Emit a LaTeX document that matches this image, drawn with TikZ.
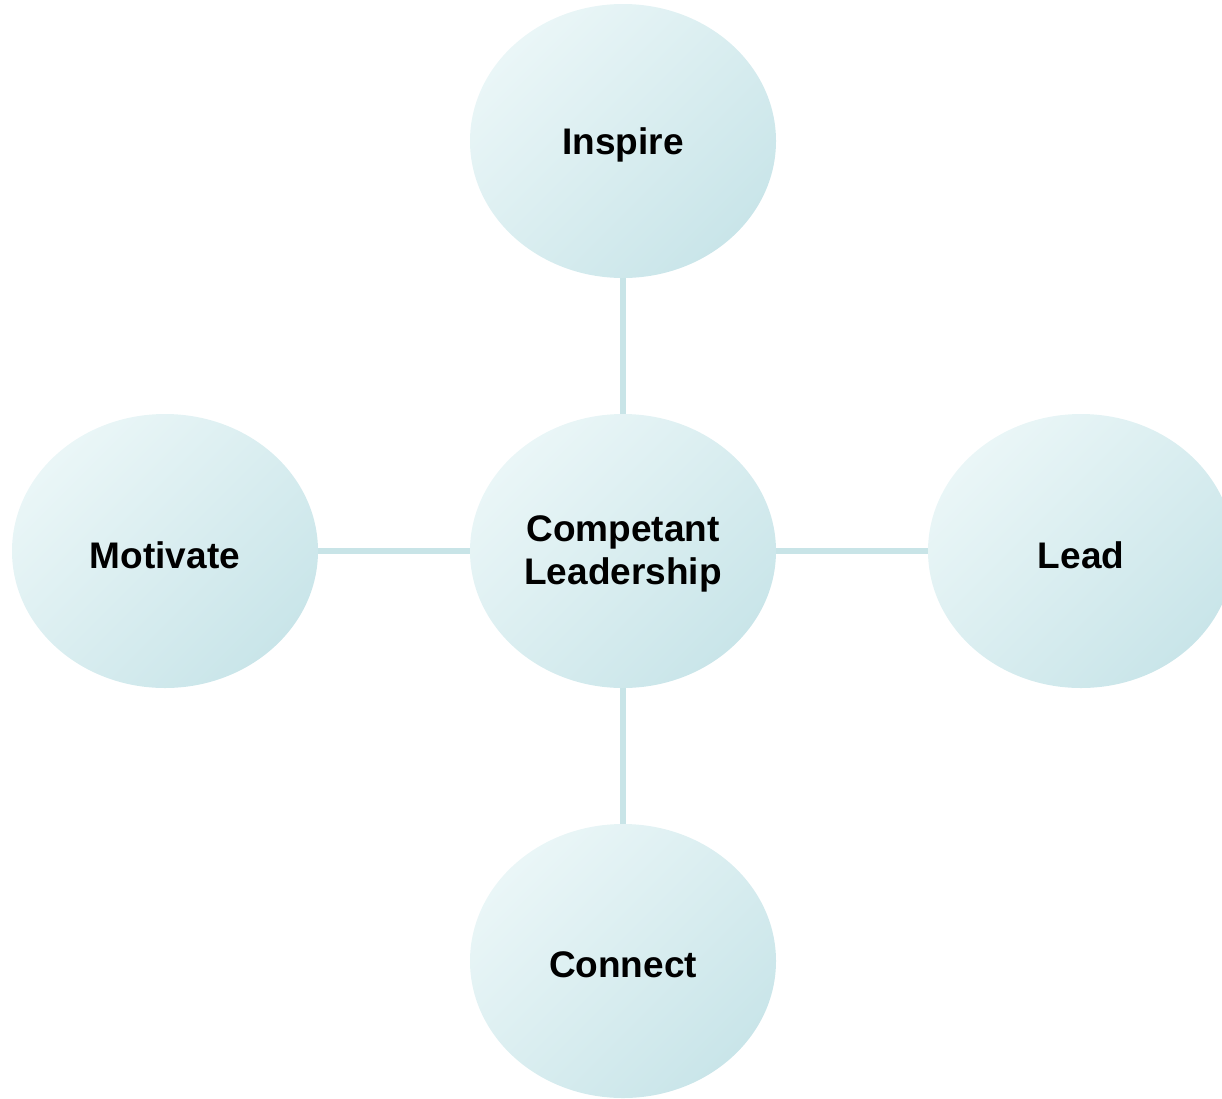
\documentclass[tikz,border=0pt]{standalone}
\usepackage{fontspec}
\setmainfont{Liberation Sans}
\usetikzlibrary{shapes.geometric}
\definecolor{nodelight}{HTML}{EAF6F7}
\definecolor{nodedark}{HTML}{C9E5E9}
\definecolor{linkcol}{HTML}{C8E4E7}
\tikzset{
  bubble/.style={ellipse, minimum width=306pt, minimum height=274pt, inner sep=0pt,
    top color=nodelight, bottom color=nodedark, shading angle=45},
  caption/.style={font=\fontsize{37}{43}\selectfont\bfseries, align=center, text=black, inner sep=0pt},
  link/.style={draw=linkcol, line width=6pt}
}
\begin{document}
\begin{tikzpicture}[x=1pt,y=-1pt]
\useasboundingbox (0,0) rectangle (1222,1098);
\coordinate (cC) at (623,551);
\coordinate (cT) at (623,141);
\coordinate (cB) at (623,961);
\coordinate (cL) at (165,551);
\coordinate (cR) at (1081,551);
\draw[link] (cC) -- (cT);
\draw[link] (cC) -- (cB);
\draw[link] (cC) -- (cL);
\draw[link] (cC) -- (cR);
\node[bubble] (center) at (cC) {};
\node[bubble] (inspire) at (cT) {};
\node[bubble] (connect) at (cB) {};
\node[bubble] (motivate) at (cL) {};
\node[bubble] (lead) at (cR) {};
\node[caption] (centertext) at ([yshift=-3pt]center.center) {Competant\\Leadership};
\node[caption] (inspiretext) at ([yshift=-4pt]inspire.center) {Inspire};
\node[caption] (connecttext) at ([yshift=-4pt]connect.center) {Connect};
\node[caption] (motivatetext) at ([yshift=-4pt]motivate.center) {Motivate};
\node[caption] (leadtext) at ([yshift=-4pt]lead.center) {Lead};
\end{tikzpicture}
\end{document}
